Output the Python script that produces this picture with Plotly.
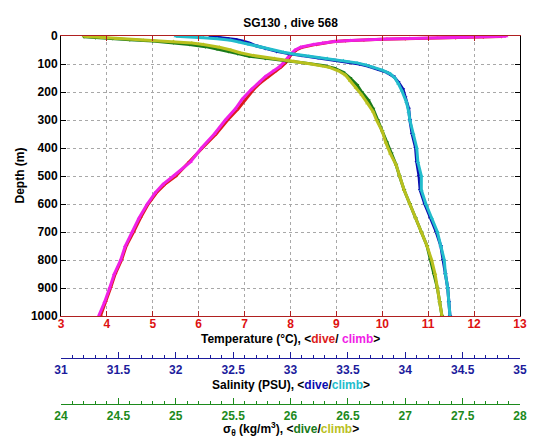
import plotly.graph_objects as go

# ---------------- data ----------------
temp_dive_depth = [2, 4, 6, 8, 10, 12, 14, 17, 20, 25, 30, 40, 50, 65, 80, 95, 110, 125, 145, 165, 190, 225, 260, 300,
                   350, 400, 450, 500, 530, 560, 600, 650, 700, 750, 800, 850, 900, 950, 1000]
temp_dive = [12.6, 12.2, 11.6, 11.0, 10.5, 10.0, 9.6, 9.2, 8.95, 8.72, 8.56, 8.26, 8.13, 8.02, 7.96, 7.9, 7.8, 7.68, 7.52,
             7.36, 7.2, 7.02, 6.86, 6.63, 6.38, 6.08, 5.8, 5.5, 5.26, 5.08, 4.9, 4.73, 4.58, 4.42, 4.32, 4.18, 4.08,
             3.97, 3.86]

temp_climb_depth = [1, 3, 5, 7, 9, 11, 13, 16, 20, 25, 30, 40, 50, 65, 80, 95, 110, 125, 145, 165, 190, 225, 260, 300,
                    350, 400, 450, 500, 530, 560, 600, 650, 700, 750, 800, 850, 900, 950, 1000]
temp_climb = [12.7, 12.3, 11.8, 11.2, 10.6, 10.1, 9.7, 9.3, 8.95, 8.7, 8.5, 8.22, 8.1, 8.0, 7.93, 7.85, 7.76, 7.62, 7.45,
              7.32, 7.15, 6.95, 6.8, 6.58, 6.34, 6.06, 5.82, 5.45, 5.22, 5.05, 4.88, 4.7, 4.55, 4.4, 4.3, 4.16, 4.06,
              3.95, 3.82]

sal_dive_depth = [2, 5, 8, 12, 18, 25, 35, 45, 55, 63, 70, 78, 85, 92, 100, 108, 118, 130, 145, 165, 190, 220, 260, 300,
                  350, 400, 450, 500, 550, 600, 650, 700, 750, 800, 850, 900, 950, 1000]
sal_dive = [32.3, 32.38, 32.45, 32.52, 32.58, 32.64, 32.7, 32.78, 32.88, 32.98, 33.1, 33.24, 33.38, 33.5, 33.6, 33.68,
            33.76, 33.84, 33.9, 33.94, 33.98, 34.0, 34.03, 34.04, 34.06, 34.09, 34.1, 34.12, 34.13, 34.17, 34.22, 34.27,
            34.31, 34.33, 34.35, 34.37, 34.38, 34.39]

sal_climb_depth = [1, 3, 6, 10, 15, 22, 30, 40, 50, 58, 65, 72, 80, 88, 96, 104, 112, 122, 135, 150, 170, 195, 235, 270,
                   300, 350, 400, 450, 500, 550, 600, 650, 700, 750, 800, 850, 900, 950, 1000]
sal_climb = [32.0, 32.12, 32.24, 32.36, 32.48, 32.56, 32.64, 32.74, 32.84, 32.94, 33.04, 33.16, 33.32, 33.46, 33.58,
             33.66, 33.72, 33.8, 33.87, 33.91, 33.94, 33.97, 34.01, 34.03, 34.04, 34.07, 34.1, 34.11, 34.14, 34.14,
             34.18, 34.23, 34.28, 34.31, 34.34, 34.35, 34.37, 34.38, 34.39]

sig_dive_depth = [3, 6, 9, 13, 18, 24, 30, 38, 46, 55, 63, 72, 80, 88, 96, 105, 115, 130, 150, 175, 200, 230, 260, 300,
                  340, 380, 420, 460, 500, 550, 600, 650, 700, 750, 800, 850, 900, 950, 1000]
sig_dive = [24.2, 24.3, 24.45, 24.6, 24.8, 24.98, 25.12, 25.26, 25.36, 25.46, 25.54, 25.64, 25.78, 25.96, 26.12, 26.28,
            26.38, 26.46, 26.52, 26.58, 26.62, 26.68, 26.72, 26.76, 26.8, 26.84, 26.88, 26.92, 26.95, 26.99, 27.04,
            27.09, 27.14, 27.19, 27.22, 27.25, 27.28, 27.3, 27.32]

sig_climb_depth = [1, 3, 6, 10, 15, 20, 25, 30, 40, 50, 60, 70, 80, 90, 100, 112, 125, 140, 160, 185, 210, 240, 270,
                   300, 340, 380, 420, 460, 500, 550, 600, 650, 700, 750, 800, 850, 900, 950, 1000]
sig_climb = [24.2, 24.28, 24.36, 24.48, 24.72, 24.98, 25.14, 25.24, 25.38, 25.48, 25.56, 25.68, 25.86, 26.03, 26.18,
             26.34, 26.42, 26.48, 26.52, 26.57, 26.62, 26.67, 26.72, 26.75, 26.8, 26.83, 26.87, 26.92, 26.95, 26.99,
             27.04, 27.09, 27.14, 27.19, 27.23, 27.26, 27.28, 27.3, 27.32]

temp_ticks = [3, 4, 5, 6, 7, 8, 9, 10, 11, 12, 13]
depth_ticks = [0, 100, 200, 300, 400, 500, 600, 700, 800, 900, 1000]

# ---------------- styling ----------------
RED, MAG = "#dd1c1c", "#f020e6"
BLUE, CYAN = "#0c0cb0", "#22bccc"
GREEN, YEL = "#1a7a1a", "#b9c01e"
T_AX, S_AX, G_AX = "#dd1111", "#1c1c9c", "#1c8a1c"
FONT = "Liberation Sans, Arial, sans-serif"

fig = go.Figure()

def add(x, y, color, axis, sym):
    fig.add_trace(go.Scatter(x=x, y=y, xaxis=axis, yaxis="y", mode="lines+markers",
                             line=dict(color=color, width=3),
                             marker=dict(color=color, size=4, symbol=sym),
                             showlegend=False, hoverinfo="skip"))

add(temp_dive, temp_dive_depth, RED, "x", "triangle-down")
add(temp_climb, temp_climb_depth, MAG, "x", "triangle-up")
add(sal_dive, sal_dive_depth, BLUE, "x2", "triangle-down")
add(sal_climb, sal_climb_depth, CYAN, "x2", "triangle-up")
add(sig_dive, sig_dive_depth, GREEN, "x3", "triangle-down")
add(sig_climb, sig_climb_depth, YEL, "x3", "triangle-up")

H, T_M, B_M = 442, 28, 12
paper_h = H - T_M - B_M
def py(pix):
    return (H - B_M - pix) / paper_h

fig.update_layout(
    width=543, height=442,
    margin=dict(l=53, r=31, t=T_M, b=B_M),
    paper_bgcolor="white", plot_bgcolor="white",
    font=dict(family=FONT, size=12, color="black"),
    title=dict(text="<b>SG130 , dive 568</b>", x=0.5, xref="paper", xanchor="center",
               y=1 - 15 / H, yref="container", yanchor="middle",
               font=dict(family=FONT, size=12, color="black")),
    xaxis=dict(range=[3, 13], tickvals=temp_ticks, ticks="inside", ticklen=5, tickcolor="#b02020",
               showline=True, linecolor="#b02020", linewidth=1, mirror="ticks",
               showgrid=True, gridcolor="#a8a8a8", griddash="dot", gridwidth=1,
               ticklabelstandoff=-3,
               tickfont=dict(family=FONT, size=12, color=T_AX, weight="bold"),
               zeroline=False, anchor="y"),
    xaxis2=dict(range=[31, 35], overlaying="x", anchor="free", position=py(356), side="bottom",
                dtick=0.5, tick0=31, ticks="inside", ticklen=6, tickcolor=S_AX,
                minor=dict(dtick=0.1, ticklen=3, ticks="inside", tickcolor=S_AX, showgrid=False),
                showline=True, linecolor=S_AX, linewidth=1, showgrid=False, zeroline=False,
                tickfont=dict(family=FONT, size=12, color=S_AX, weight="bold")),
    xaxis3=dict(range=[24, 28], overlaying="x", anchor="free", position=py(403), side="bottom",
                dtick=0.5, tick0=24, ticks="inside", ticklen=6, tickcolor=G_AX,
                minor=dict(dtick=0.1, ticklen=3, ticks="inside", tickcolor=G_AX, showgrid=False),
                showline=True, linecolor=G_AX, linewidth=1, showgrid=False, zeroline=False,
                tickfont=dict(family=FONT, size=12, color=G_AX, weight="bold")),
    yaxis=dict(range=[1000, 0], domain=[py(313), 1], tickvals=depth_ticks, ticks="inside", ticklen=5,
               tickcolor="black", showline=True, linecolor="black", linewidth=1, mirror="ticks",
               showgrid=True, gridcolor="#a8a8a8", griddash="dot", gridwidth=1, zeroline=False,
               tickfont=dict(family=FONT, size=12, color="black", weight="bold"), anchor="x"),
)

def note(text, x, y, angle=0):
    fig.add_annotation(text=text, xref="paper", yref="paper", x=x, y=y, showarrow=False,
                       xanchor="center", yanchor="middle", textangle=angle,
                       font=dict(family=FONT, size=12, color="black"))

note('<b>Temperature (°C), &lt;<span style="color:%s">dive</span>/ <span style="color:%s">climb</span>&gt;</b>'
     % (RED, MAG), 0.5, py(336))
note('<b>Salinity (PSU), &lt;<span style="color:%s">dive</span>/<span style="color:%s">climb</span>&gt;</b>'
     % (BLUE, CYAN), 0.5, py(383))
note('<b>σ<sub>θ</sub> (kg/m<sup>3</sup>), &lt;<span style="color:%s">dive</span>/<span style="color:%s">climb</span>&gt;</b>'
     % (GREEN, YEL), 0.5, py(428))
note("<b>Depth (m)</b>", (12 - 53) / 459, py(170), angle=-90)

fig.write_html("out.html")
